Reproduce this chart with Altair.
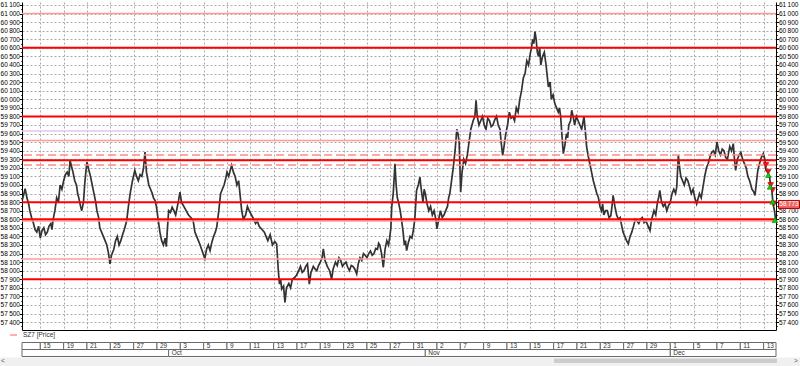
import altair as alt
import pandas as pd

# ---------------- data ----------------
price_t = [
    -1.55, -1.4, -1.3, -1.15, -1.0, -0.9, -0.75, -0.6, -0.45, -0.3, -0.15, 0.0, 0.15, 0.3, 0.45, 0.6, 0.75, 0.9, 1.0, 1.1,
    1.25, 1.4, 1.55, 1.7, 1.85, 2.0, 2.15, 2.3, 2.45, 2.55, 2.7, 2.8, 2.95, 3.1, 3.2, 3.3, 3.45, 3.55, 3.7, 3.8,
    3.9, 4.0, 4.15, 4.3, 4.45, 4.6, 4.75, 4.85, 5.0, 5.1, 5.25, 5.4, 5.55, 5.7, 5.85, 5.97, 6.1, 6.3, 6.45, 6.6,
    6.75, 6.9, 7.05, 7.2, 7.3, 7.4, 7.55, 7.7, 7.9, 8.1, 8.25, 8.4, 8.55, 8.7, 8.85, 8.97, 9.1, 9.3, 9.45, 9.6,
    9.7, 9.83, 9.95, 10.1, 10.25, 10.4, 10.55, 10.7, 10.8, 10.9, 11.0, 11.15, 11.3, 11.45, 11.6, 11.75, 11.85, 11.97, 12.1, 12.3,
    12.5, 12.7, 12.9, 13.1, 13.25, 13.4, 13.55, 13.7, 13.9, 14.1, 14.25, 14.4, 14.55, 14.7, 14.85, 15.0, 15.12, 15.3, 15.45, 15.6,
    15.75, 15.9, 16.0, 16.15, 16.3, 16.4, 16.55, 16.7, 16.85, 17.0, 17.15, 17.26, 17.4, 17.6, 17.75, 17.9, 18.1, 18.3, 18.45, 18.6,
    18.75, 18.83, 19.0, 19.2, 19.35, 19.5, 19.7, 19.9, 20.1, 20.26, 20.4, 20.5, 20.6, 20.69, 20.85, 20.97, 21.1, 21.3, 21.45, 21.6,
    21.8, 21.97, 22.15, 22.3, 22.45, 22.6, 22.75, 22.9, 23.06, 23.2, 23.4, 23.55, 23.7, 23.85, 24.0, 24.15, 24.26, 24.4, 24.6, 24.8,
    24.97, 25.1, 25.3, 25.45, 25.6, 25.75, 25.9, 26.05, 26.2, 26.35, 26.5, 26.65, 26.8, 26.95, 27.12, 27.25, 27.4, 27.55, 27.7, 27.85,
    28.0, 28.15, 28.3, 28.45, 28.6, 28.75, 28.9, 29.0, 29.1, 29.25, 29.4, 29.55, 29.7, 29.85, 29.95, 30.05, 30.12, 30.25, 30.4, 30.5,
    30.6, 30.7, 30.85, 30.97, 31.1, 31.2, 31.3, 31.4, 31.55, 31.7, 31.85, 31.97, 32.1, 32.25, 32.4, 32.54, 32.65, 32.8, 32.9, 33.0,
    33.15, 33.3, 33.45, 33.6, 33.75, 33.9, 34.0, 34.15, 34.3, 34.45, 34.6, 34.75, 34.9, 35.0, 35.1, 35.25, 35.4, 35.55, 35.7, 35.8,
    35.9, 35.97, 36.03, 36.15, 36.3, 36.45, 36.6, 36.75, 36.9, 37.0, 37.1, 37.25, 37.35, 37.45, 37.6, 37.75, 37.9, 38.05, 38.2, 38.35,
    38.5, 38.65, 38.8, 38.95, 39.1, 39.25, 39.4, 39.5, 39.63, 39.75, 39.9, 40.05, 40.2, 40.35, 40.5, 40.65, 40.8, 40.95, 41.1, 41.25,
    41.4, 41.55, 41.7, 41.85, 42.0, 42.1, 42.2, 42.3, 42.4, 42.5, 42.6, 42.7, 42.8, 42.9, 43.05, 43.2, 43.35, 43.55, 43.7, 43.8,
    43.95, 44.1, 44.25, 44.4, 44.5, 44.6, 44.7, 44.83, 44.95, 45.1, 45.2, 45.3, 45.45, 45.55, 45.7, 45.8, 45.95, 46.1, 46.25, 46.4,
    46.5, 46.6, 46.7, 46.83, 46.95, 47.1, 47.25, 47.4, 47.5, 47.6, 47.7, 47.83, 47.97, 48.1, 48.2, 48.3, 48.45, 48.6, 48.75, 48.9,
    49.0, 49.1, 49.25, 49.4, 49.55, 49.7, 49.8, 49.95, 50.1, 50.25, 50.4, 50.55, 50.7, 50.85, 51.0, 51.15, 51.3, 51.45, 51.6, 51.75,
    51.9, 52.1, 52.26, 52.4, 52.6, 52.75, 52.9, 53.0, 53.1, 53.25, 53.4, 53.55, 53.7, 53.85, 54.0, 54.15, 54.3, 54.45, 54.55, 54.69,
    54.8, 54.9, 55.05, 55.2, 55.35, 55.5, 55.65, 55.8, 55.95, 56.1, 56.26, 56.4, 56.5, 56.65, 56.8, 56.95, 57.1, 57.25, 57.4, 57.55,
    57.7, 57.85, 58.0, 58.15, 58.3, 58.45, 58.6, 58.75, 58.9, 59.0, 59.1, 59.25, 59.4, 59.5, 59.6, 59.75, 59.9, 60.05, 60.2, 60.35,
    60.5, 60.65, 60.8, 60.9, 61.0, 61.15, 61.26, 61.4, 61.5, 61.65, 61.8, 61.97, 62.1, 62.2, 62.35, 62.5, 62.6, 62.7, 62.8, 62.9,
    63.05,
]
price_v = [
    58820, 58900, 58956, 58850, 58780, 58700, 58620, 58560, 58480, 58450, 58520, 58380, 58470, 58500, 58420, 58450, 58520, 58550, 58480, 58600,
    58700, 58850, 58800, 59000, 58950, 59050, 59120, 59150, 59100, 59290, 59200, 59150, 59050, 59000, 58900, 58850, 58750, 58700, 58800, 59000,
    59150, 59270, 59180, 59100, 59000, 58900, 58800, 58700, 58620, 58500, 58450, 58400, 58350, 58300, 58200, 58080, 58180, 58250, 58350, 58400,
    58300, 58350, 58420, 58480, 58530, 58580, 58750, 58900, 59050, 59170, 59100, 59050, 59120, 59100, 59200, 59385, 59150, 59000, 58950, 58900,
    58850, 58820, 58750, 58600, 58450, 58350, 58300, 58380, 58280, 58500, 58700, 58680, 58740, 58700, 58650, 58750, 58820, 58917, 58800, 58750,
    58700, 58650, 58620, 58585, 58450, 58400, 58350, 58300, 58220, 58140, 58250, 58300, 58234, 58330, 58400, 58450, 58507, 58700, 58897, 58950,
    59000, 59080, 59150, 59100, 59180, 59229, 59150, 59100, 59000, 59050, 58850, 58702, 58600, 58650, 58750, 58700, 58650, 58600, 58550, 58580,
    58520, 58507, 58480, 58450, 58400, 58350, 58420, 58300, 58340, 58312, 58000, 57844, 57900, 57786, 57820, 57630, 57800, 57850, 57800, 57900,
    57920, 57950, 58000, 58050, 57980, 58000, 58050, 58080, 57844, 57980, 58050, 58020, 58000, 58060, 58100, 58150, 58254, 58120, 58050, 58000,
    57903, 58020, 58100, 58060, 58150, 58120, 58050, 58080, 58100, 58040, 58000, 58060, 58050, 58020, 57961, 58080, 58150, 58120, 58200, 58180,
    58150, 58200, 58230, 58180, 58200, 58260, 58250, 58320, 58300, 58200, 58039, 58250, 58350, 58300, 58390, 58500, 58741, 58900, 59248, 59000,
    58850, 58800, 58700, 58585, 58450, 58300, 58350, 58234, 58330, 58400, 58380, 58468, 58600, 58936, 59000, 59092, 58950, 58800, 58950, 58900,
    58780, 58700, 58750, 58650, 58700, 58600, 58488, 58600, 58700, 58620, 58650, 58700, 58750, 58850, 58900, 59050, 59209, 59400, 59650, 59600,
    59500, 59200, 58917, 59150, 59300, 59250, 59350, 59500, 59650, 59700, 59750, 59800, 59989, 59800, 59700, 59750, 59800, 59700, 59650, 59780,
    59750, 59680, 59700, 59760, 59800, 59700, 59650, 59500, 59346, 59450, 59600, 59700, 59850, 59780, 59800, 59750, 59900, 59850, 60000, 60100,
    60250, 60300, 60450, 60400, 60535, 60600, 60700, 60650, 60789, 60700, 60550, 60500, 60600, 60400, 60500, 60550, 60400, 60145, 60200, 60000,
    60050, 59950, 59900, 59850, 59900, 59800, 59600, 59365, 59450, 59600, 59550, 59700, 59750, 59872, 59780, 59700, 59800, 59750, 59700, 59650,
    59720, 59800, 59650, 59443, 59350, 59248, 59150, 59050, 59000, 58950, 58900, 58858, 58750, 58700, 58780, 58650, 58700, 58700, 58620, 58640,
    58750, 58878, 58750, 58650, 58600, 58620, 58546, 58450, 58400, 58350, 58312, 58400, 58450, 58520, 58600, 58580, 58550, 58600, 58620, 58560,
    58580, 58520, 58468, 58600, 58700, 58650, 58800, 58850, 58936, 58800, 58750, 58780, 58700, 58760, 58800, 58900, 58950, 58900, 58975, 59346,
    59200, 59100, 59050, 59000, 59080, 59050, 58980, 58900, 58950, 58850, 58780, 58850, 58900, 58850, 58975, 59100, 59200, 59250, 59326, 59380,
    59400, 59350, 59502, 59400, 59350, 59420, 59400, 59320, 59300, 59380, 59450, 59400, 59482, 59300, 59170, 59300, 59350, 59380, 59300, 59250,
    59200, 59100, 59050, 59000, 58950, 58920, 58878, 59050, 59170, 59250, 59320, 59365, 59300, 59170, 59150, 59100, 59000, 58950, 58780, 58720,
    58585,
]

major_levels = [60600, 59800, 59290, 58800, 58600, 57900]
minor_levels = [61000, 59520, 58580, 58135]
dashed_levels = [59350, 59232]
violet_levels = [59630]

sell_t = [62.2, 62.4, 62.6, 62.77, 62.9]
sell_p = [59233, 59155, 58999, 58941, 58786]
buy_t = [62.4, 62.55, 62.77, 62.97]
buy_p = [59116, 58980, 58805, 58591]
last_price = [58773]

day_labels = ["15", "19", "21", "25", "27", "29", "3", "5", "9", "11", "13", "17", "19", "23", "25", "27",
              "31", "2", "7", "9", "13", "15", "17", "21", "23", "27", "29", "1", "5", "7", "11", "13"]
month_labels = ["", "Oct", "Nov", "Dec"]
month_start = [11, 33, 54]
series_name = ["SZ7 [Price]"]

# ---------------- layout ----------------
T0, T1 = -1.57, 63.06
P0, P1 = 57308, 61135
W, H = 754, 328
FONT = "Liberation Sans"
AXFS = 6.5
SEP = "\u2009"  # thin space as thousands separator

day_start = [T0] + [2 * k for k in range(len(day_labels))]
day_end = day_start[1:] + [T1]
df_days = pd.DataFrame({"s": day_start, "e": day_end, "label": [""] + day_labels})
m_start = [T0] + month_start
df_months = pd.DataFrame({"s": m_start, "e": m_start[1:] + [T1], "label": month_labels})

df_price = pd.DataFrame({"t": price_t, "p": price_v})
one = pd.DataFrame({"a": [0]})

xscale = alt.Scale(domain=[T0, T1], nice=False, zero=False)
yscale = alt.Scale(domain=[P0, P1], nice=False, zero=False)

x_axis = alt.Axis(values=list(range(0, 63, 2)), labels=False, ticks=False, domain=True,
                  domainColor="#000000", domainWidth=1, grid=True, gridColor="#a8a8a8",
                  gridDash=[2, 2], gridWidth=1, title=None)


def X(field):
    return alt.X(field, type="quantitative", scale=xscale, axis=x_axis)


is100 = "datum.value % 100 === 0"
fmt = "replace(format(%s, ','), ',', '" + SEP + "')"
lbl_expr = "datum.value % 100 === 0 ? " + (fmt % "datum.value") + " : ''"
# on the right, the label hidden under the last-price box is left blank
lbl_expr_r = ("datum.value % 100 === 0 && abs(datum.value - " + str(last_price[0]) + ") > 45 ? "
              + (fmt % "datum.value") + " : ''")
tick_vals = list(range(57350, 61101, 50))
common_axis = dict(values=tick_vals, labelOverlap=False, labelFlush=False,
                   tickSize={"condition": {"test": is100, "value": 2.5}, "value": 1.2},
                   tickColor="#000000", domainColor="#000000", labelFont=FONT, labelFontSize=AXFS,
                   labelColor="#000000", labelPadding=0, title=None)
y_left = alt.Axis(orient="left", grid=True, gridColor="#a8a8a8", gridDash=[2, 2], labelExpr=lbl_expr,
                  gridOpacity={"condition": {"test": is100, "value": 1}, "value": 0}, **common_axis)
y_right = alt.Axis(orient="right", grid=False, labelExpr=lbl_expr_r, **common_axis)


def Y(field, axis=None):
    return alt.Y(field, type="quantitative", scale=yscale, axis=axis)


price_line = alt.Chart(df_price).mark_line(color="#333333", strokeWidth=1.7, strokeJoin="miter").encode(
    x=X("t"), y=Y("p", y_left))

def level_layer(vals, **kw):
    return alt.Chart(pd.DataFrame({"p": vals})).mark_rule(**kw).encode(y=Y("p"))

minor = level_layer(minor_levels, color="#ff9c9c", strokeWidth=1.5)
violet = level_layer(violet_levels, color="#e6c6f2", strokeWidth=1.5)
dashed = level_layer(dashed_levels, color="#ff8a8a", strokeWidth=1.5, strokeDash=[8, 4])
major = alt.Chart(pd.DataFrame({"p": major_levels})).mark_rule(color="#ff0000", strokeWidth=2).encode(
    y=Y("p", y_right))

sells = alt.Chart(pd.DataFrame({"t": sell_t, "p": sell_p})).mark_point(
    shape="triangle-down", filled=True, size=32, fill="#ff1010", stroke="#b00000",
    strokeWidth=0.6, opacity=1).encode(x=X("t"), y=Y("p"))
buys = alt.Chart(pd.DataFrame({"t": buy_t, "p": buy_p})).mark_point(
    shape="triangle-up", filled=True, size=32, fill="#10d010", stroke="#008000",
    strokeWidth=0.6, opacity=1).encode(x=X("t"), y=Y("p"))

box_path = "M-1,-0.38L1,-0.38L1,0.38L-1,0.38Z"
df_last = pd.DataFrame({"p": last_price})
last_box = alt.Chart(df_last).mark_point(shape=box_path, size=441, filled=True, fill="#f06464",
                                         stroke="#b00000", strokeWidth=1, opacity=1).encode(
    x=alt.value(W + 13), y=Y("p"))
last_txt = alt.Chart(df_last).transform_calculate(
    lbl=fmt % "datum.p").mark_text(
    color="#ffffff", fontSize=AXFS, font=FONT, align="center", baseline="middle").encode(
    x=alt.value(W + 13), y=Y("p"), text="lbl:N")

# date strip
day_cells = alt.Chart(df_days).mark_rect(fill="#ffffff", stroke="#6a6a6a", strokeWidth=1).encode(
    x=X("s"), x2="e", y=alt.value(H + 12.5), y2=alt.value(H + 19.5))
day_text = alt.Chart(df_days).mark_text(align="left", baseline="middle", dx=3, fontSize=AXFS,
                                        font=FONT, color="#333333").encode(
    x=X("s"), y=alt.value(H + 16.2), text="label:N")
month_cells = alt.Chart(df_months).mark_rect(fill="#ffffff", stroke="#6a6a6a", strokeWidth=1).encode(
    x=X("s"), x2="e", y=alt.value(H + 19.5), y2=alt.value(H + 26.5))
month_text = alt.Chart(df_months).mark_text(align="left", baseline="middle", dx=3, fontSize=AXFS,
                                            font=FONT, color="#333333").encode(
    x=X("s"), y=alt.value(H + 23.2), text="label:N")

# legend
leg_line = alt.Chart(one).mark_rule(color="#ff6060", strokeWidth=1).encode(
    x=alt.value(-12), x2=alt.value(-5), y=alt.value(H + 5))
leg_text = alt.Chart(pd.DataFrame({"name": series_name})).mark_text(
    align="left", baseline="middle", fontSize=AXFS, font=FONT, color="#333333").encode(
    x=alt.value(1), y=alt.value(H + 5), text="name:N")

# scrollbar
track = alt.Chart(one).mark_rect(fill="#f0f0f0").encode(
    x=alt.value(-22), x2=alt.value(W + 24), y=alt.value(H + 27.5), y2=alt.value(H + 36))
thumb = alt.Chart(one).mark_rect(fill="#cdcdcd").encode(
    x=alt.value(532), x2=alt.value(755), y=alt.value(H + 28.5), y2=alt.value(H + 33))
arrows = alt.Chart(pd.DataFrame({"s": ["<", ">"], "px": [-19, W + 20]})).mark_text(
    fontSize=AXFS, font=FONT, color="#555555", baseline="middle").encode(
    x=alt.X("px:Q", scale=None), y=alt.value(H + 31), text="s:N")

chart = alt.layer(
    price_line, minor, violet, dashed, major, sells, buys, last_box, last_txt,
    day_cells, day_text, month_cells, month_text, leg_line, leg_text, track, thumb, arrows,
).resolve_scale(y="independent").properties(
    width=W, height=H,
    autosize=alt.AutoSizeParams(type="none"),
    padding={"left": 22, "top": 2, "right": 24, "bottom": 36},
    background="#ffffff",
).configure_view(stroke=None)

chart.save("out.html", embed_options={"renderer": "svg", "actions": False})
